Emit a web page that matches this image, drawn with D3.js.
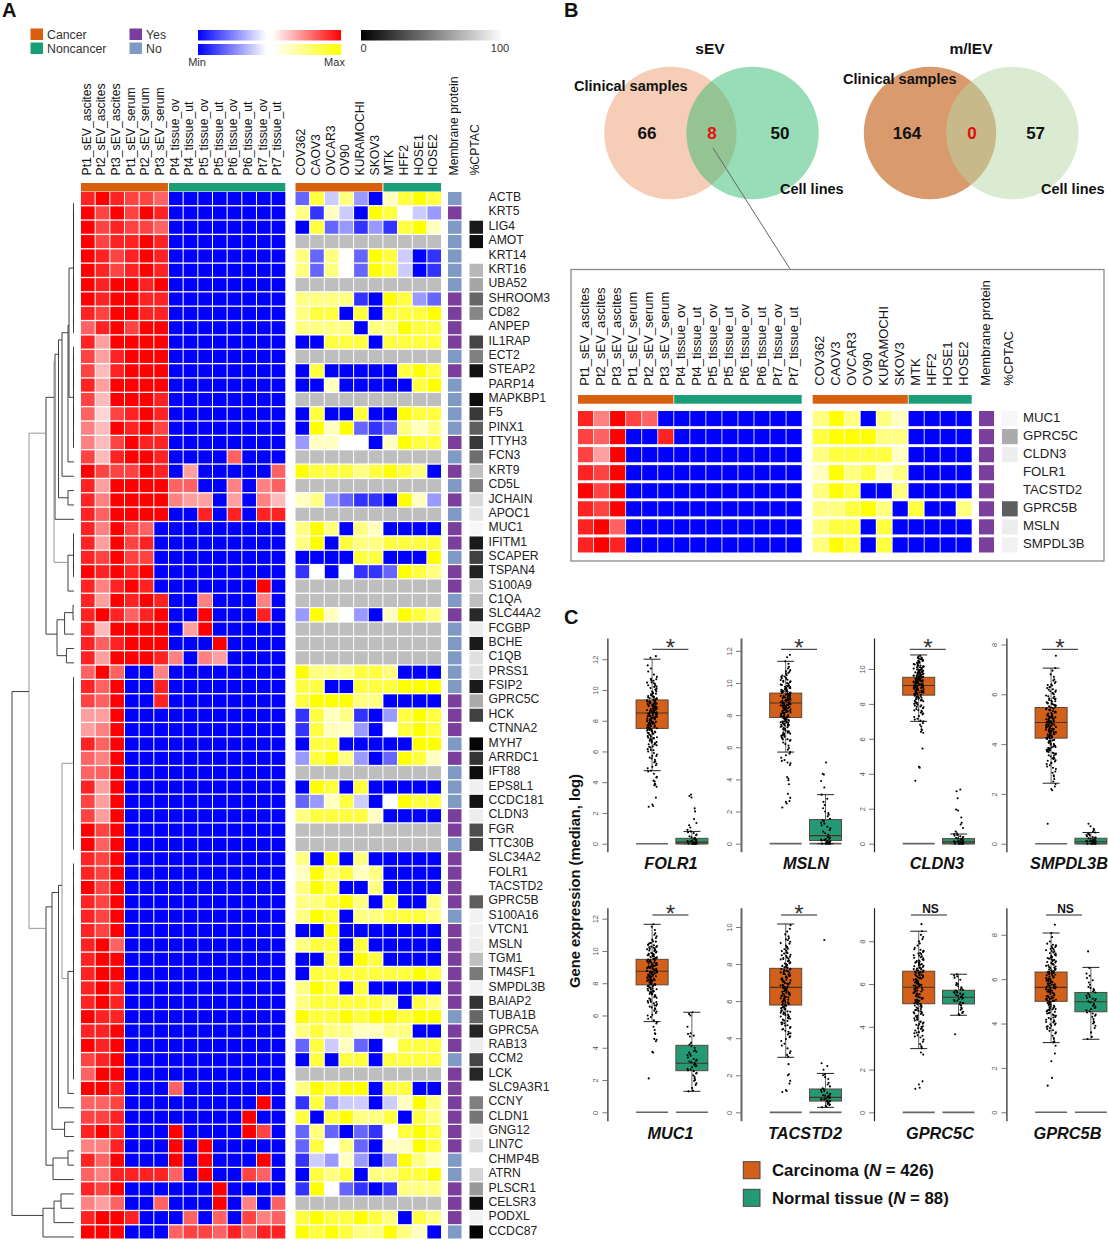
<!DOCTYPE html>
<html><head><meta charset="utf-8">
<script src="https://cdn.jsdelivr.net/npm/d3@7/dist/d3.min.js"></script>
<style>html,body{margin:0;padding:0;background:#fff}svg{display:block}text{font-family:"Liberation Sans",Arial,sans-serif;fill:#111}</style>
</head><body><svg id="c" width="1108" height="1242"></svg>
<script>
// ---------- DATA: heatmap ----------
const clinicalColumns=["Pt1_sEV_ascites","Pt2_sEV_ascites","Pt3_sEV_ascites","Pt1_sEV_serum","Pt2_sEV_serum","Pt3_sEV_serum","Pt4_tissue_ov","Pt4_tissue_ut","Pt5_tissue_ov","Pt5_tissue_ut","Pt6_tissue_ov","Pt6_tissue_ut","Pt7_tissue_ov","Pt7_tissue_ut"];
const cellColumns=["COV362","CAOV3","OVCAR3","OV90","KURAMOCHI","SKOV3","MTK","HFF2","HOSE1","HOSE2"];
const clinicalCancerCount=6, cellCancerCount=6;
const genes=["ACTB","KRT5","LIG4","AMOT","KRT14","KRT16","UBA52","SHROOM3","CD82","ANPEP","IL1RAP","ECT2","STEAP2","PARP14","MAPKBP1","F5","PINX1","TTYH3","FCN3","KRT9","CD5L","JCHAIN","APOC1","MUC1","IFITM1","SCAPER","TSPAN4","S100A9","C1QA","SLC44A2","FCGBP","BCHE","C1QB","PRSS1","FSIP2","GPRC5C","HCK","CTNNA2","MYH7","ARRDC1","IFT88","EPS8L1","CCDC181","CLDN3","FGR","TTC30B","SLC34A2","FOLR1","TACSTD2","GPRC5B","S100A16","VTCN1","MSLN","TGM1","TM4SF1","SMPDL3B","BAIAP2","TUBA1B","GPRC5A","RAB13","CCM2","LCK","SLC9A3R1","CCNY","CLDN1","GNG12","LIN7C","CHMP4B","ATRN","PLSCR1","CELSR3","PODXL","CCDC87"];
// 14 digits per gene: 0 = minimum (blue), 1-9 = rising red
const clinicalValues=["89877600000000","97979800000000","97877600000000","97889800000000","98789800000000","98789800000000","98998900000000","98998800000000","87998800000000","68979900000000","84999900000000","74899900000000","73899900000000","84999900000000","73999800000000","62789800000000","53989700000000","53798800000000","73899800006000","97779804000006","84999966005056","85999954404053","86999900808088","85976000000000","84978000000000","87977000000000","98989000000000","85898000000090","84989800500050","89868900900080","83999904900000","86899900090000","84999850540000","69600500000000","86900800000000","76900800000000","44900000000000","45900000000000","86900000000000","65900000000000","66900000000000","84900000000000","74900000000000","74900000000000","97900000000000","96900000000000","87900000000000","87900000000000","97900000000000","87900000000000","87900000000000","87900000000000","89600000000000","89900000000000","89900000000000","89800000000000","89800000000000","98800000000000","88900000000000","98900000000000","78900000000000","69900000000000","99800060000000","66700000000090","77800000000900","89800090000970","55800090900000","86900090900090","65888860900760","87900000090000","54600600090506","89980006060756","99900067768688"];
// 10 digits per gene: 0 = minimum (blue), 5 = white, 9 = yellow; x = not detected (grey)
const cellValues=["2847306898","7164098543","0823131896","xxxxxxxxxx","7275298401","7275298401","xxxxxxxxxx","7777109832","7880808889","7777077988","0088808888","xxxxxxxxxx","0800000898","0060000089","xxxxxxxxxx","0800800988","0969212767","3665506988","xxxxxxxxxx","9888789870","xxxxxxxxxx","6732110963","xxxxxxxxxx","7970760000","7908778888","0000880009","1505112987","xxxxxxxxxx","xxxxxxxxxx","3965306987","xxxxxxxxxx","xxxxxxxxxx","xxxxxxxxxx","9777887000","8800888999","8999770000","1867103898","1866305898","0880000099","3897302986","xxxxxxxxxx","0980800000","2368405988","7888860000","xxxxxxxxxx","xxxxxxxxxx","7090700000","6978670000","7980070000","7789708007","7980778887","0090000000","7880800000","0080980000","0888888898","7980800000","7888887087","9889899899","7877667700","2846205888","0808808888","xxxxxxxxxx","7989908800","1834404697","8089778087","2720215898","2857206698","1436303976","0878077889","1952101777","xxxxxxxxxx","8988987087","9898779760"];
const membraneYes="NYNNNNNYYYYNYNNNNYNYNYNYYNYYNYNNNNNYYYNYNNNYYNYYYYNYYYYYYNYYNYYYYYYNNYYYN";
const cptacPercent=[100,100,10,5,100,72,65,40,53,100,27,50,7,100,5,22,37,22,43,75,50,85,90,97,10,25,13,80,75,16,92,10,88,88,10,67,25,100,2,20,5,94,7,93,30,27,100,100,100,37,95,94,93,75,48,95,20,40,14,93,27,15,100,50,46,95,87,100,84,60,6,95,1];
const insetGenes=["MUC1","GPRC5C","CLDN3","FOLR1","TACSTD2","GPRC5B","MSLN","SMPDL3B"];
// dendrogram: [height, childA, childB, grey?]; integers are gene rows
function run(a,b){return a===b?a:[0.5,run(a,Math.floor((a+b)/2)),run(Math.floor((a+b)/2)+1,b)];}
const dendrogram=[62,
 [45,
  [28,
   [20,
    [19,[15.5,[12,[6,[5,run(0,9),run(10,17)],18],19],[6,20,21]],22],
    [6,run(23,26),27],1],
   [17,[9.4,[1,28,29],30],[7.6,31,32]]],
  [28,
   [22,[15.5,[12,run(33,45),[6,run(46,61),62],1],63],[9.4,64,65]],
   [21,[6,66,67],68]],1],
 [31,[20,[13,69,70],71],72]];
// ---------- DATA: Venn ----------
const vennTitles=["sEV","m/lEV"];
const vennCounts=[[66,8,50],[164,0,57]];
// ---------- DATA: box plots ----------
const boxGenes=["FOLR1","MSLN","CLDN3","SMPDL3B","MUC1","TACSTD2","GPRC5C","GPRC5B"];
const significance=["*","*","*","*","*","*","NS","NS"];
const axisTop=[13.38,12.8,11.77,8.26,12.68,11.04,9.57,9.22];
const axisBottom=[-.52,-.5,-.46,-.32,-.52,-.45,-.39,-.38];
const axisTicks=[[0,2,4,6,8,10,12],[0,2,4,6,8,10,12],[0,2,4,6,8,10],[0,2,4,6,8],[0,2,4,6,8,10,12],[0,2,4,6,8,10],[0,2,4,6,8],[0,2,4,6,8]];
// [lower whisker, Q1, median, Q3, upper whisker]
const carcinomaStats=[[4.75,7.5,8.5,9.35,12],[5.7,7.85,8.75,9.37,11.35],[7,8.5,9.05,9.52,10.8],[2.43,4.24,4.87,5.47,7.05],[5.62,7.9,8.74,9.48,11.65],[2.97,5.79,6.74,7.77,10.16],[2.98,5.08,5.85,6.6,8.47],[3.14,5,5.63,6.32,8.08]];
const normalStats=[[0,0,.1,.35,.8],[0,.2,.5,1.5,3.05],[0,0,.1,.29,.55],[0,0,.08,.22,.45],[1.3,2.58,3.04,4.15,6.2],[.27,.61,.81,1.26,2.1],[4.54,5.07,5.38,5.71,6.46],[3.29,4.53,4.98,5.4,6.53]];
const FOLR1_tumor=[2.4,2.45,2.55,3,3.7,3.8,3.85,3.9,4.05,4.1,4.3,4.35,4.55,4.7,4.75,4.9,5,5.1,5.2,5.3,5.35,5.45,5.55,5.6,5.7,5.8,5.9,6,6.1,6.15,6.25,6.3,6.4,6.45,6.5,6.55,6.65,6.7,6.75,6.8,6.85,6.9,6.95,7,7.05,7.1,7.15,7.2,7.25,7.3,7.35,7.4,7.45,7.5,7.55,7.6,7.65,7.7,7.72,7.75,7.8,7.85,7.9,7.92,7.95,8,8.05,8.1,8.12,8.15,8.2,8.25,8.3,8.32,8.35,8.4,8.45,8.5,8.52,8.55,8.6,8.65,8.7,8.72,8.75,8.8,8.85,8.9,8.92,8.95,9,9.05,9.1,9.12,9.15,9.2,9.25,9.3,9.35,9.4,9.45,9.5,9.6,9.7,9.8,9.9,10,10.1,10.2,10.3,10.4,10.5,10.6,10.7,10.85,11,11.2,11.4,11.6,12.1,12.2];
const FOLR1_core=[8.42,7.61,9.03,8.88,7.33,9.27,8.17,6.92,8.63,9.51,7.83,8.28,10.12,7.47,8.97,8.53,9.38,7.68,6.58,8.07,9.64,8.34,7.97,10.31,8.76,7.22,9.18,8.48,9.83,7.58,8.94,8.23,6.78,9.46,8.67,7.88,10.48,8.11,9.07,7.41,8.58,9.22,6.33,7.74,8.81,9.72,8.37,7.52,10.63,8.03,9.33,8.71,7.16,9.92,8.44,7.78,8.99,6.47,9.58,8.19,7.94,10.22,8.56,9.14,7.36,8.86,6.08,9.42,8.26,10.44,7.66,9.01,8.61,5.72,9.76,8.39,7.82,10.03,8.14,9.29,6.88,8.74,7.51,9.55,8.47,10.72,9.09,7.27,8.91,6.62];
const FOLR1_normal=[0,0,0,0,0,0,.02,.03,.05,.05,.08,.1,.1,.12,.15,.18,.2,.22,.25,.3,.33,.38,.42,.48,.55,.6,.7,.75,.8,.9,1.05,1.2,1.35,1.6,2.1,2.3,3,3.1,3.2];
const MSLN_tumor=[2.25,2.5,2.6,2.65,2.85,3.1,3.7,3.95,4.05,4.15,4.9,5,5.05,5.15,5.2,5.35,5.5,5.6,5.7,5.85,5.95,6.1,6.2,6.3,6.4,6.45,6.5,6.6,6.65,6.7,6.75,6.8,6.85,6.9,6.95,7,7.05,7.1,7.15,7.2,7.25,7.3,7.35,7.4,7.45,7.5,7.55,7.6,7.65,7.7,7.75,7.8,7.85,7.9,7.95,8,8.05,8.1,8.12,8.15,8.2,8.25,8.3,8.35,8.4,8.45,8.5,8.55,8.6,8.62,8.65,8.7,8.75,8.8,8.85,8.9,8.92,8.95,9,9.05,9.1,9.15,9.2,9.25,9.3,9.35,9.4,9.45,9.5,9.55,9.6,9.65,9.7,9.75,9.8,9.85,9.9,9.95,10,10.05,10.1,10.2,10.3,10.4,10.5,10.6,10.7,10.8,10.9,11,11.2,11.35,11.6,11.75];
const MSLN_core=[8.67,9.12,7.93,8.38,9.47,7.62,8.83,9.68,8.22,7.38,9.03,8.57,10.14,7.78,8.96,9.33,6.73,8.13,9.58,7.47,8.71,10.26,8.43,9.21,7.88,8.91,6.92,9.77,8.29,7.56,9.38,8.63,10.38,7.97,9.07,8.48,6.56,9.53,8.77,7.69,10.07,8.33,9.18,7.28,8.93,9.83,8.07,6.83,9.44,8.53,10.47,7.83,9.27,8.69,7.12,9.62,8.41,10.18,7.52,8.98,9.36,8.17,6.48,9.72,8.59,7.74,10.33,9.01,8.27,7.43,9.49,8.81,10.62,7.91,9.16,8.37,6.99,9.88,8.73,7.61,10.74,8.51,9.26,7.33];
const MSLN_normal=[0,0,0,0,0,.02,.03,.05,.08,.1,.12,.15,.18,.2,.22,.25,.28,.3,.35,.4,.45,.55,.65,.75,.85,.95,1.05,1.15,1.25,1.3,1.4,1.45,1.55,1.7,1.8,1.9,2,2.2,2.4,2.6,2.8,3.05,3.5,3.9,4.3,4.35,5.05];
const CLDN3_tumor=[3.6,4.35,4.4,5.45,6.35,6.4,6.5,6.55,6.7,6.8,6.9,7,7.05,7.1,7.15,7.25,7.3,7.4,7.45,7.5,7.55,7.6,7.65,7.7,7.75,7.8,7.85,7.9,7.95,8,8.05,8.1,8.15,8.2,8.22,8.25,8.3,8.35,8.4,8.42,8.45,8.5,8.52,8.55,8.6,8.62,8.65,8.7,8.72,8.75,8.78,8.8,8.85,8.88,8.9,8.92,8.95,9,9.02,9.05,9.08,9.1,9.12,9.15,9.18,9.2,9.22,9.25,9.28,9.3,9.32,9.35,9.38,9.4,9.42,9.45,9.48,9.5,9.52,9.55,9.58,9.6,9.62,9.65,9.68,9.7,9.72,9.75,9.78,9.8,9.82,9.85,9.88,9.9,9.95,10,10.02,10.05,10.1,10.12,10.15,10.2,10.25,10.3,10.35,10.4,10.45,10.5,10.55,10.6,10.65,10.7,10.75];
const CLDN3_core=[9.11,8.83,9.43,8.47,9.76,8.93,10.08,9.26,8.64,9.57,9.03,8.36,9.87,9.19,10.22,8.71,9.36,8.17,9.67,9.07,10.36,8.97,9.46,8.53,9.83,9.14,10.47,8.77,9.29,7.83,9.61,9.01,10.17,8.86,9.53,8.26,9.93,9.23,10.58,8.67,9.41,8.04,9.73,9.16,10.28,8.91,9.56,7.63,9.97,9.31,10.42,8.58,9.09,8.33,9.81,9.44,10.63,8.81,9.24,7.92,9.64,9.04,10.13,8.69,9.51,8.11,9.91,9.37,10.52,8.96];
const CLDN3_normal=[0,0,0,0,0,.01,.02,.03,.04,.05,.06,.08,.1,.1,.12,.14,.15,.18,.2,.22,.25,.27,.3,.32,.35,.38,.42,.45,.5,.55,.6,.7,.9,1.1,1.2,1.5,1.9,1.95,2.6,3,3.1];
const SMPDL3B_tumor=[.8,2.15,2.2,2.3,2.4,2.5,2.6,2.7,2.75,2.85,2.9,3,3.05,3.1,3.15,3.2,3.25,3.3,3.35,3.4,3.42,3.45,3.5,3.55,3.6,3.62,3.65,3.7,3.75,3.78,3.8,3.85,3.88,3.9,3.95,4,4.02,4.05,4.1,4.12,4.15,4.2,4.22,4.25,4.28,4.3,4.35,4.38,4.4,4.42,4.45,4.5,4.52,4.55,4.58,4.6,4.65,4.68,4.7,4.72,4.75,4.8,4.82,4.85,4.88,4.9,4.92,4.95,5,5.02,5.05,5.08,5.1,5.12,5.15,5.2,5.22,5.25,5.28,5.3,5.35,5.38,5.4,5.42,5.45,5.5,5.55,5.6,5.62,5.65,5.7,5.75,5.8,5.82,5.85,5.9,5.95,6,6.05,6.1,6.15,6.2,6.25,6.3,6.35,6.4,6.45,6.5,6.55,6.6,6.7,6.8,6.95,7.05,7.55];
const SMPDL3B_core=[4.83,5.16,4.37,5.43,4.63,3.93,5.27,4.97,4.17,5.58,4.73,3.68,5.07,4.47,5.33,4.91,3.83,5.68,4.57,5.23,4.27,6.03,4.78,3.53,5.47,5.03,4.13,5.77,4.67,3.73,5.37,4.87,4.33,5.92,4.53,3.33,5.18,4.93,3.97,6.18,4.43,5.52,4.76,3.63,5.13,4.23,6.28,4.99,3.87,5.63,4.61,3.23,5.29,4.07,6.12,4.81,5.41,4.49,3.43,5.72,4.69,3.77,5.09,6.37,4.29,4.91,5.57,3.58,4.59,5.83];
const SMPDL3B_normal=[0,0,0,0,0,.01,.02,.03,.04,.05,.06,.07,.08,.09,.1,.11,.12,.13,.14,.15,.16,.18,.2,.22,.24,.25,.27,.3,.33,.35,.38,.4,.45,.5,.55,.6,.7,.8];
const MUC1_tumor=[2.1,3.7,3.75,4.4,4.5,4.55,4.85,4.9,5.1,5.3,5.5,5.6,5.7,5.8,5.9,6,6.05,6.15,6.25,6.3,6.4,6.45,6.5,6.55,6.6,6.7,6.75,6.8,6.85,6.9,7,7.05,7.1,7.15,7.2,7.25,7.3,7.35,7.4,7.45,7.5,7.55,7.6,7.65,7.7,7.75,7.8,7.85,7.9,7.95,8,8.05,8.1,8.12,8.15,8.2,8.25,8.3,8.35,8.4,8.45,8.5,8.52,8.55,8.6,8.65,8.7,8.72,8.75,8.8,8.85,8.9,8.95,9,9.02,9.05,9.1,9.15,9.2,9.25,9.3,9.35,9.4,9.45,9.5,9.55,9.6,9.65,9.7,9.75,9.8,9.85,9.9,9.95,10,10.05,10.1,10.15,10.2,10.25,10.3,10.35,10.4,10.5,10.6,10.7,10.8,10.9,11,11.1,11.3,11.5,11.65];
const MUC1_core=[8.73,9.13,8.27,9.47,7.93,8.97,9.62,8.43,7.63,9.27,8.83,10.07,8.14,9.37,7.43,8.67,9.77,8.53,9.03,7.83,8.33,10.22,8.91,9.53,7.23,8.61,9.18,8.07,9.87,7.73,8.77,10.37,8.41,9.33,6.93,8.96,9.68,8.21,7.53,9.08,8.57,10.13,7.97,9.43,8.37,6.63,8.86,9.73,8.11,10.47,7.67,9.23,8.69,7.33,9.57,8.47,10.27,8.01,8.93,9.39,7.87,6.83,8.79,10.02,8.17,9.83,7.47,8.59,10.58,9.16];
const MUC1_normal=[1.3,1.35,1.5,1.7,1.8,1.95,2,2.1,2.2,2.3,2.4,2.45,2.55,2.6,2.65,2.7,2.8,2.85,2.9,2.95,3,3.05,3.1,3.15,3.2,3.25,3.3,3.4,3.5,3.55,3.6,3.7,3.75,3.8,3.85,4,4.1,4.2,4.3,4.7,4.75,4.85,4.9,5.3,6,6.1,6.2];
const TACSTD2_tumor=[1.1,1.15,1.2,1.55,1.7,2,2.05,2.6,3,3.1,3.2,3.3,3.45,3.6,3.7,3.85,3.95,4.05,4.1,4.2,4.25,4.35,4.4,4.5,4.55,4.6,4.7,4.75,4.8,4.85,4.95,5,5.05,5.1,5.15,5.2,5.25,5.3,5.35,5.4,5.45,5.5,5.55,5.6,5.65,5.7,5.75,5.8,5.85,5.9,5.95,6,6.05,6.1,6.15,6.2,6.25,6.3,6.35,6.4,6.45,6.5,6.55,6.6,6.65,6.7,6.75,6.8,6.85,6.9,6.95,7,7.05,7.1,7.15,7.2,7.25,7.3,7.35,7.4,7.45,7.5,7.55,7.6,7.65,7.7,7.75,7.8,7.85,7.9,7.95,8,8.05,8.1,8.15,8.2,8.25,8.3,8.35,8.4,8.5,8.6,8.7,8.8,8.9,9,9.1,9.2,9.3,9.4,9.5,9.6,9.75,9.9,10.1];
const TACSTD2_core=[6.78,7.23,6.17,5.63,7.67,6.43,8.07,5.27,6.93,7.43,5.83,8.33,6.57,7.13,4.93,6.27,7.83,5.47,8.57,6.83,7.33,5.93,6.37,8.17,4.67,7.03,6.63,7.57,5.37,8.47,6.13,7.73,5.73,6.87,8.73,4.83,7.27,6.47,5.57,8.27,6.97,7.47,5.17,6.07,8.93,7.17,6.53,5.87,7.63,4.47,8.63,6.23,7.37,5.67,8.03,6.73,9.13,5.07,7.93,6.33,4.27,7.07,8.43,5.97,6.67,9.33,7.53,5.43,8.83,6.03];
const TACSTD2_normal=[.27,.3,.35,.4,.42,.45,.5,.52,.55,.58,.6,.62,.65,.68,.7,.72,.75,.78,.8,.82,.85,.88,.9,.92,.95,1,1.05,1.1,1.15,1.2,1.25,1.3,1.4,1.5,1.6,1.8,1.9,2,2.05,2.3,2.5,2.65,9.3];
const GPRC5C_tumor=[1.1,1.15,1.3,1.45,2.7,2.8,3,3.05,3.1,3.2,3.3,3.4,3.5,3.55,3.6,3.7,3.75,3.8,3.85,3.9,3.95,4,4.05,4.1,4.15,4.2,4.25,4.3,4.35,4.4,4.45,4.5,4.55,4.6,4.65,4.7,4.75,4.8,4.85,4.9,4.95,5,5.05,5.1,5.15,5.2,5.22,5.25,5.3,5.35,5.4,5.45,5.5,5.55,5.6,5.65,5.7,5.75,5.8,5.85,5.9,5.92,5.95,6,6.05,6.1,6.12,6.15,6.2,6.25,6.3,6.32,6.35,6.4,6.42,6.45,6.5,6.52,6.55,6.6,6.62,6.65,6.7,6.72,6.75,6.8,6.85,6.9,6.95,7,7.05,7.1,7.15,7.2,7.25,7.3,7.35,7.4,7.45,7.5,7.55,7.6,7.7,7.8,7.9,8,8.1,8.2,8.3,8.47,8.8];
const GPRC5C_core=[5.88,6.28,5.33,6.63,4.73,6.08,5.53,6.83,4.43,5.73,6.38,5.03,6.93,4.93,5.98,6.53,5.18,7.13,4.23,5.63,6.18,4.63,6.73,5.43,7.33,4.83,5.83,6.43,5.13,7.03,3.93,6.03,5.58,6.58,4.53,7.23,5.28,6.23,4.13,5.78,6.78,4.97,7.43,5.48,6.33,3.73,5.93,6.68,5.08,7.63,4.33,5.68,6.48,4.78,5.38,6.88,3.58,6.13,5.23,7.08,4.68,5.96,6.57,4.03,7.53,5.12,6.27,3.83,5.52,6.98];
const GPRC5C_normal=[3.65,4.55,4.6,4.65,4.7,4.8,4.85,4.9,5,5.05,5.1,5.12,5.15,5.2,5.22,5.25,5.3,5.32,5.35,5.38,5.4,5.42,5.45,5.48,5.5,5.52,5.55,5.58,5.6,5.62,5.65,5.7,5.72,5.75,5.8,5.85,5.9,5.95,6,6.05,6.2,6.3,6.35,6.4,6.45];
const GPRC5B_tumor=[1.2,1.55,2.3,2.65,3,3.15,3.2,3.3,3.35,3.45,3.55,3.6,3.7,3.75,3.8,3.85,3.9,3.95,4,4.05,4.1,4.15,4.2,4.25,4.3,4.35,4.4,4.45,4.5,4.55,4.6,4.62,4.65,4.7,4.75,4.8,4.85,4.9,4.95,5,5.02,5.05,5.1,5.12,5.15,5.2,5.22,5.25,5.3,5.35,5.4,5.42,5.45,5.5,5.55,5.6,5.62,5.65,5.7,5.72,5.75,5.8,5.85,5.9,5.92,5.95,6,6.02,6.05,6.1,6.15,6.2,6.22,6.25,6.3,6.32,6.35,6.4,6.42,6.45,6.5,6.55,6.6,6.65,6.7,6.75,6.8,6.85,6.9,6.95,7,7.05,7.1,7.15,7.2,7.25,7.3,7.35,7.4,7.45,7.5,7.55,7.6,7.7,7.9,8.08,8.45];
const GPRC5B_core=[5.67,6.07,5.27,6.37,4.77,5.87,6.47,5.07,6.67,4.57,5.47,6.17,4.87,5.77,6.57,5.17,6.87,4.37,5.57,6.27,4.97,7.07,5.37,6.77,4.67,5.97,6.12,5.52,7.27,4.27,6.52,5.03,6.97,4.47,5.82,6.33,4.07,5.44,7.17,5.93,4.73,6.62,5.13,3.87,6.23,5.73,7.37,4.83,5.33,6.43,4.17,5.63,6.82,5.23,3.67,6.03,7.47,4.93,5.48,6.72,4.53,5.78,3.97,6.92,5.09,6.28,4.63,5.58,7.52,5.88];
const GPRC5B_normal=[3.3,3.4,3.6,3.8,3.9,4,4.05,4.1,4.2,4.3,4.35,4.4,4.45,4.5,4.55,4.6,4.65,4.7,4.75,4.8,4.85,4.9,4.95,5,5.05,5.1,5.12,5.15,5.2,5.25,5.3,5.35,5.4,5.45,5.5,5.55,5.6,5.65,5.75,5.85,5.95,6.05,6.15,6.25,6.5,7.25];
const carcinomaPoints=[FOLR1_tumor.concat(FOLR1_core),MSLN_tumor.concat(MSLN_core),CLDN3_tumor.concat(CLDN3_core),SMPDL3B_tumor.concat(SMPDL3B_core),MUC1_tumor.concat(MUC1_core),TACSTD2_tumor.concat(TACSTD2_core),GPRC5C_tumor.concat(GPRC5C_core),GPRC5B_tumor.concat(GPRC5B_core)];
const normalPoints=[FOLR1_normal,MSLN_normal,CLDN3_normal,SMPDL3B_normal,MUC1_normal,TACSTD2_normal,GPRC5C_normal,GPRC5B_normal];

// ---------- STYLE / LAYOUT ----------
const ORANGE="#d95f0e",GREEN="#1b9e77",BOXO="#d2601a",BOXG="#239a75",PURPLE="#7a3f9c",SLATE="#7f9ac4",MISSING="#bebebe";
const redScale=d3.scalePow().exponent(1.2).domain([0,9]).range(["#ffffff","#ff0000"]);
const clinColor=v=>v===0?"#0000ff":redScale(v);
const cellColor=d3.scaleLinear().domain([0,5,9]).range(["#0000ff","#ffffff","#ffff00"]);
const greyColor=d3.scaleLinear().domain([0,100]).range(["#000000","#ffffff"]);
const svg=d3.select("#c");
svg.append("rect").attr("width",1108).attr("height",1242).attr("fill","#fff");
const defs=svg.append("defs");
function gradient(id,stops){const g=defs.append("linearGradient").attr("id",id);stops.forEach(([o,c])=>g.append("stop").attr("offset",o).attr("stop-color",c));}
gradient("gRed",[[0,"#0000ff"],[.48,"#ffffff"],[.52,"#ffffff"],[1,"#ff0000"]]);
gradient("gYel",[[0,"#0000ff"],[.48,"#ffffff"],[.52,"#ffffff"],[1,"#ffff00"]]);
gradient("gGry",[[0,"#000000"],[1,"#ffffff"]]);
function txt(g,x,y,s,size,opt={}){const t=g.append("text").attr("x",x).attr("y",y).attr("font-size",size).text(s);
 if(opt.bold)t.attr("font-weight","bold");if(opt.anchor)t.attr("text-anchor",opt.anchor);if(opt.italic)t.attr("font-style","italic");if(opt.fill)t.style("fill",opt.fill);return t;}
function vtxt(g,x,y,s,size){return g.append("text").attr("transform",`translate(${x},${y}) rotate(-90)`).attr("font-size",size).attr("dominant-baseline","central").text(s);}

// Panel letters
txt(svg,2,17,"A",20,{bold:1});txt(svg,564,17,"B",20,{bold:1});txt(svg,564,623.5,"C",20,{bold:1});

// Legends of panel A
const leg=svg.append("g");
[["Cancer",ORANGE,30.5,47,28.5],["Noncancer",GREEN,30.5,47,42.5],["Yes",PURPLE,129.5,146,28.5],["No",SLATE,129.5,146,42.5]].forEach(([s,c,x,tx,y])=>{
 leg.append("rect").attr("x",x).attr("y",y).attr("width",12.5).attr("height",11.5).attr("fill",c);
 txt(leg,tx,y+10,s,12.3,{fill:"#333"});});
leg.append("rect").attr("x",198).attr("y",30).attr("width",143).attr("height",10.5).attr("fill","url(#gRed)");
leg.append("rect").attr("x",198).attr("y",44).attr("width",143).attr("height",11).attr("fill","url(#gYel)");
leg.append("rect").attr("x",361).attr("y",30).attr("width",142).attr("height",10.5).attr("fill","url(#gGry)");
txt(leg,197,65.7,"Min",11,{anchor:"middle",fill:"#333"});txt(leg,334.5,65.7,"Max",11,{anchor:"middle",fill:"#333"});
txt(leg,363.5,52,"0",11,{anchor:"middle",fill:"#333"});txt(leg,500,52,"100",11,{anchor:"middle",fill:"#333"});

// Heatmap drawing shared by panel A and the inset of panel B
function heat(g,cfg){
 const idx=cfg.rows.map(r=>genes.indexOf(r));
 const yB=d3.scaleBand().domain(cfg.rows).range(cfg.yRange).paddingInner(cfg.gap);
 const xC=d3.scaleBand().domain(clinicalColumns).range(cfg.xClin).paddingInner(cfg.gapX);
 const xL=d3.scaleBand().domain(cellColumns).range(cfg.xCell).paddingInner(cfg.gapX);
 idx.forEach((gi,r)=>{const gene=cfg.rows[r],y=yB(gene),h=yB.bandwidth();
  clinicalColumns.forEach((c,j)=>g.append("rect").attr("x",xC(c)).attr("y",y).attr("width",xC.bandwidth()).attr("height",h).attr("fill",clinColor(+clinicalValues[gi][j])));
  cellColumns.forEach((c,j)=>{const ch=cellValues[gi][j];g.append("rect").attr("x",xL(c)).attr("y",y).attr("width",xL.bandwidth()).attr("height",h).attr("fill",ch==="x"?MISSING:cellColor(+ch));});
  g.append("rect").attr("x",cfg.xMem[0]).attr("y",y).attr("width",cfg.xMem[1]-cfg.xMem[0]).attr("height",h).attr("fill",membraneYes[gi]==="Y"?PURPLE:SLATE);
  g.append("rect").attr("x",cfg.xPct[0]).attr("y",y).attr("width",cfg.xPct[1]-cfg.xPct[0]).attr("height",h).attr("fill",greyColor(cptacPercent[gi]));
  txt(g,cfg.xLabel,y+h/2-1.4,gene,cfg.rowFont,{fill:"#222"}).attr("dominant-baseline","central");
 });
 // annotation bars
 const bar=(scale,cols,from,to,col)=>{const x0=scale(cols[from]),x1=scale(cols[to])+scale.bandwidth();
  g.append("rect").attr("x",x0).attr("y",cfg.barY[0]).attr("width",x1-x0).attr("height",cfg.barY[1]-cfg.barY[0]).attr("fill",col);};
 bar(xC,clinicalColumns,0,clinicalCancerCount-1,ORANGE);bar(xC,clinicalColumns,clinicalCancerCount,clinicalColumns.length-1,GREEN);
 bar(xL,cellColumns,0,cellCancerCount-1,ORANGE);bar(xL,cellColumns,cellCancerCount,cellColumns.length-1,GREEN);
 // column labels
 clinicalColumns.forEach(c=>vtxt(g,xC(c)+xC.bandwidth()/2-1,cfg.labelY,c,cfg.colFont));
 cellColumns.forEach(c=>vtxt(g,xL(c)+xL.bandwidth()/2-1,cfg.labelY,c,cfg.colFont));
 vtxt(g,(cfg.xMem[0]+cfg.xMem[1])/2-1,cfg.labelY,"Membrane protein",cfg.colFont);
 vtxt(g,(cfg.xPct[0]+cfg.xPct[1])/2-1,cfg.labelY,"%CPTAC",cfg.colFont);
 return yB;
}
const A=svg.append("g");
const yA=heat(A,{rows:genes,yRange:[192,1238.5],gap:.09,xClin:[81,285.3],xCell:[295.5,441],gapX:.07,xMem:[448,461.5],xPct:[469.5,483],xLabel:488.5,rowFont:12.2,colFont:12.2,barY:[183,191.5],labelY:175.5});

// Dendrogram: a node sits at the centre of the rows beneath it
const dx=d3.scaleLinear().domain([0,62]).range([74,12]);
const dg=svg.append("g").attr("fill","none").attr("stroke-width",.9);
function drawNode(n){
 if(typeof n==="number"){const y=yA(genes[n])+yA.bandwidth()/2+5;return{y,h:0,lo:y,hi:y};}
 const a=drawNode(n[1]),b=drawNode(n[2]);
 const x=dx(n[0]);
 dg.append("path").attr("stroke",n[3]?"#8c8c8c":"#2a2a2a")
   .attr("d",`M${dx(a.h)},${a.y}H${x}V${b.y}H${dx(b.h)}`);
 const lo=Math.min(a.lo,b.lo),hi=Math.max(a.hi,b.hi);
 return{y:(lo+hi)/2,h:n[0],lo,hi};
}
drawNode(dendrogram);

// Panel B: Venn diagrams
const B=svg.append("g");
const vennPos=[{x1:670.4,x2:752.6,c1:"#ed9b6d",o1:.5,c2:"#33bb71",o2:.5,tx:710,n:[647,712,780],cs:[574,91],cl:[780,194]},
               {x1:930,x2:1012.4,c1:"#d99a6e",o1:1,c2:"#b5d7a5",o2:.5,tx:971,n:[907,972,1035.6],cs:[843,84],cl:[1041,194]}];
vennPos.forEach((v,i)=>{
 B.append("circle").attr("cx",v.x1).attr("cy",133).attr("r",66.2).attr("fill",v.c1).attr("opacity",v.o1);
 B.append("circle").attr("cx",v.x2).attr("cy",133).attr("r",66.2).attr("fill",v.c2).attr("opacity",v.o2);
 txt(B,v.tx,54,vennTitles[i],15.5,{bold:1,anchor:"middle"});
 vennCounts[i].forEach((c,k)=>txt(B,v.n[k],139,c,17,{bold:1,anchor:"middle",fill:k===1?"#e01010":"#111"}));
 txt(B,v.cs[0],v.cs[1],"Clinical samples",14.5,{bold:1});
 txt(B,v.cl[0],v.cl[1],"Cell lines",14.5,{bold:1});
});
B.append("line").attr("x1",713).attr("y1",148).attr("x2",790).attr("y2",269).attr("stroke","#666").attr("stroke-width",1);
B.append("rect").attr("x",571).attr("y",269.5).attr("width",533).attr("height",291.5).attr("fill","#fff").attr("stroke","#8a8a8a").attr("stroke-width",1.3);
heat(B,{rows:insetGenes,yRange:[411,552.5],gap:.16,xClin:[578,801.7],xCell:[812.7,971.7],gapX:.05,xMem:[979,994],xPct:[1002,1017.7],xLabel:1023,rowFont:13.2,colFont:13,barY:[395,403.7],labelY:385.7});

// Panel C: box plots
const C=svg.append("g");
const panelX=[607.4,741,874,1006.4];
const rowBot=[851.7,1120.7],rowTop=[638,907.7];
const jitter=[-3.4,2.2,-.8,4.2,-4.4,1,3.2,-2,4.8,-1.6,.2,2.8,-5,1.8,-2.8,3.8,-.4,2.6,-3.9,.6,4.5,-2.4,1.4,-1.2];
const nameY=[868.7,1139.3];
const nameX=[671,806,937,1069,670.6,805,940,1067.5];
const sigY=[649.3,915];
const sigLeft=[652.4,781,909.8,1042,652.4,781,911,1046];
boxGenes.forEach((gene,i)=>{
 const row=i<4?0:1,col=i%4,ax=panelX[col],g=C.append("g");
 const y=d3.scaleLinear().domain([axisBottom[i],axisTop[i]]).range([rowBot[row],rowTop[row]]);
 const axis=g.append("g").attr("transform",`translate(${ax},0)`).call(d3.axisLeft(y).tickValues(axisTicks[i]).tickSize(5).tickSizeOuter(0));
 axis.select(".domain").attr("stroke",col===1?"#666":"#222").attr("stroke-width",col===1?2:1.2);
 axis.selectAll("line").attr("stroke","#555").attr("stroke-width",.8);
 axis.selectAll("text").attr("x",null).attr("dy",null).attr("text-anchor","middle").attr("font-size",7.5).attr("font-family","Liberation Sans").style("fill","#555").attr("transform","translate(-9.5,0) rotate(-90)");
 [[44.7,carcinomaStats[i],carcinomaPoints[i],BOXO],[84.5,normalStats[i],normalPoints[i],BOXG]].forEach(([off,s,pts,color])=>{
  const cx=ax+off;
  g.append("line").attr("x1",cx-16).attr("x2",cx+16).attr("y1",y(0)).attr("y2",y(0)).attr("stroke","#666").attr("stroke-width",1.6);
  g.append("line").attr("x1",cx).attr("x2",cx).attr("y1",y(s[0])).attr("y2",y(s[4])).attr("stroke","#222").attr("stroke-width",.7);
  [s[0],s[4]].forEach(v=>g.append("line").attr("x1",cx-8.5).attr("x2",cx+8.5).attr("y1",y(v)).attr("y2",y(v)).attr("stroke","#222").attr("stroke-width",1));
  g.append("rect").attr("x",cx-16).attr("width",32).attr("y",y(s[3])).attr("height",y(s[1])-y(s[3])).attr("fill",color).attr("stroke","#5a4636").attr("stroke-width",1);
  g.append("line").attr("x1",cx-16).attr("x2",cx+16).attr("y1",y(s[2])).attr("y2",y(s[2])).attr("stroke","#4a3020").attr("stroke-width",1.1);
  g.selectAll(null).data(pts).join("circle").attr("cx",(d,k)=>cx+jitter[(k*5+(k>>3))%jitter.length]).attr("cy",d=>y(d)).attr("r",1.05).attr("fill","#000");
 });
 const sx=sigLeft[i],sy=sigY[row];
 g.append("line").attr("x1",sx).attr("x2",sx+36).attr("y1",sy).attr("y2",sy).attr("stroke","#222").attr("stroke-width",1);
 if(significance[i]==="*") txt(g,sx+18,sy+7,"*",24,{anchor:"middle",fill:"#333"}); else txt(g,sx+19.5,sy-2,"NS",12,{anchor:"middle",bold:1});
 txt(g,nameX[i],nameY[row],gene,16.3,{bold:1,italic:1,anchor:"middle"});
});
C.append("text").attr("transform","translate(574.5,881) rotate(-90)").attr("text-anchor","middle").attr("dominant-baseline","central").attr("font-size",14.7).attr("font-weight","bold").text("Gene expression (median, log)");
[[BOXO,"Carcinoma","426",1161.7,1176],[BOXG,"Normal tissue","88",1189.3,1204]].forEach(([c,s,n,y,ty])=>{
 C.append("rect").attr("x",743.3).attr("y",y).attr("width",16.7).attr("height",17).attr("fill",c).attr("stroke","#444").attr("stroke-width",1);
 const t=C.append("text").attr("x",772).attr("y",ty).attr("font-size",16.8).attr("font-weight","bold");
 t.append("tspan").text(s+" (");t.append("tspan").attr("font-style","italic").text("N");t.append("tspan").text(" = "+n+")");
});
</script></body></html>
